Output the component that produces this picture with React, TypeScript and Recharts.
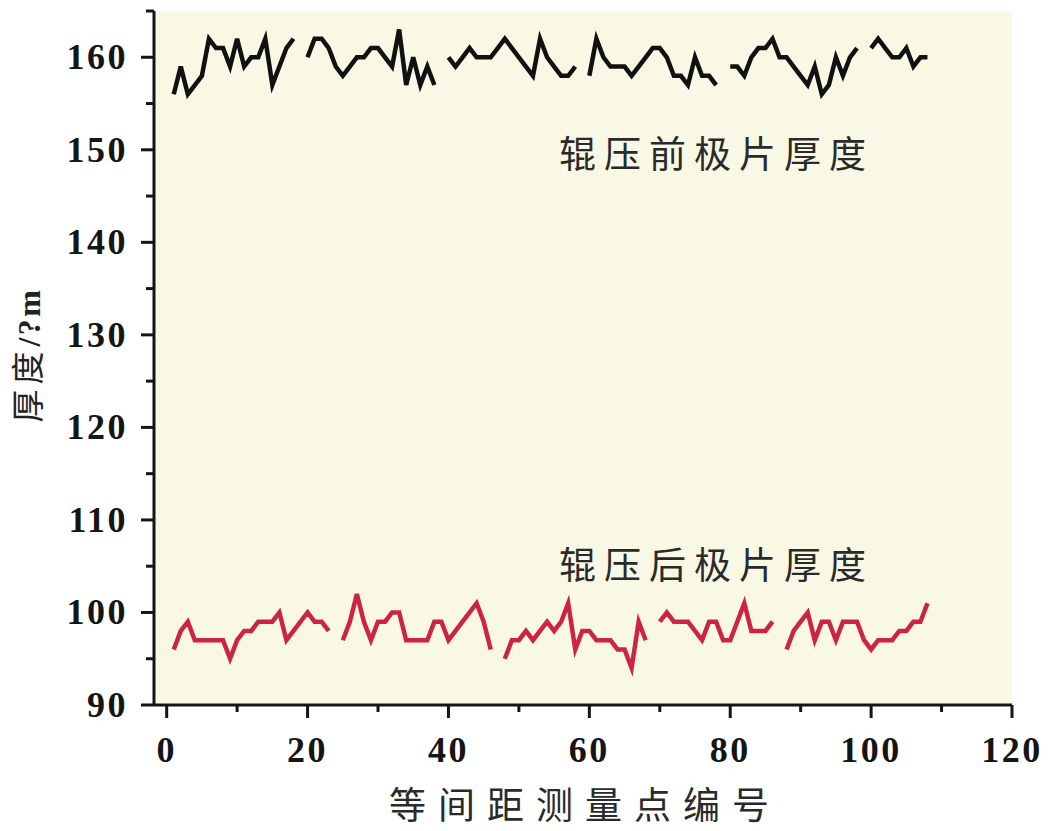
import { CartesianGrid, Line, LineChart, XAxis, YAxis } from "recharts";

// 辊压前 (before rolling) thickness, points 1..108, null = break between batches
const beforeRolling: (number | null)[] = [
  156, 159, 156, 157, 158, 162, 161, 161, 159, 162, 159, 160, 160, 162, 157, 159, 161, 162,
  null,
  160, 162, 162, 161, 159, 158, 159, 160, 160, 161, 161, 160, 159, 163, 157, 160, 157, 159, 157,
  null,
  160, 159, 160, 161, 160, 160, 160, 161, 162, 161, 160, 159, 158, 162, 160, 159, 158, 158, 159,
  null,
  158, 162, 160, 159, 159, 159, 158, 159, 160, 161, 161, 160, 158, 158, 157, 160, 158, 158, 157,
  null,
  159, 159, 158, 160, 161, 161, 162, 160, 160, 159, 158, 157, 159, 156, 157, 160, 158, 160, 161,
  null,
  161, 162, 161, 160, 160, 161, 159, 160, 160,
];

// 辊压后 (after rolling) thickness
const afterRolling: (number | null)[] = [
  96, 98, 99, 97, 97, 97, 97, 97, 95, 97, 98, 98, 99, 99, 99, 100, 97, 98, 99, 100, 99, 99, 98,
  null,
  97, 99, 102, 99, 97, 99, 99, 100, 100, 97, 97, 97, 97, 99, 99, 97, 98, 99, 100, 101, 99, 96,
  null,
  95, 97, 97, 98, 97, 98, 99, 98, 99, 101, 96, 98, 98, 97, 97, 97, 96, 96, 94, 99, 97,
  null,
  99, 100, 99, 99, 99, 98, 97, 99, 99, 97, 97, 99, 101, 98, 98, 98, 99,
  null,
  96, 98, 99, 100, 97, 99, 99, 97, 99, 99, 99, 97, 96, 97, 97, 97, 98, 98, 99, 99, 101,
];

const xTicks = [0, 10, 20, 30, 40, 50, 60, 70, 80, 90, 100, 110, 120];
const yTicks = [90, 95, 100, 105, 110, 115, 120, 125, 130, 135, 140, 145, 150, 155, 160, 165];

const data = beforeRolling.map((v, i) => ({
  n: i + 1,
  before: v,
  after: afterRolling[i],
}));

const INK = "#151515";
const tickFont = {
  fontFamily: "'Liberation Serif', 'Times New Roman', serif",
  fontWeight: 700,
  fontSize: 36,
  letterSpacing: 2.5,
};
const cjkFont = "'Noto Sans CJK SC', 'Noto Sans', sans-serif";

function YTick(props: any) {
  const { x, y, payload } = props;
  const major = payload.value % 10 === 0;
  return (
    <g>
      <line x1={x} y1={y} x2={x - (major ? 13 : 8)} y2={y} stroke={INK} strokeWidth={3} />
      {major && (
        <text x={x - 26} y={y} textAnchor="end" dominantBaseline="central" fill={INK} style={tickFont}>
          {payload.value}
        </text>
      )}
    </g>
  );
}

function XTick(props: any) {
  const { x, y, payload } = props;
  const major = payload.value % 20 === 0;
  return (
    <g>
      <line x1={x} y1={y} x2={x} y2={y + (major ? 13 : 7)} stroke={INK} strokeWidth={3} />
      {major && (
        <text x={x} y={y + 45} textAnchor="middle" dominantBaseline="central" fill={INK} style={tickFont}>
          {payload.value}
        </text>
      )}
    </g>
  );
}

const noteStyle: React.CSSProperties = {
  position: "absolute",
  fontFamily: cjkFont,
  fontSize: 37,
  letterSpacing: 8,
  color: "#2a2a2a",
  lineHeight: "40px",
  whiteSpace: "nowrap",
};

export default function App() {
  return (
    <div style={{ position: "absolute", left: 0, top: 0, width: 1050, height: 831, background: "#fff" }}>
      <LineChart
        width={1050}
        height={831}
        data={data}
        margin={{ top: 11, right: 38, bottom: 0, left: 0 }}
      >
        <CartesianGrid fill="#f8f8e5" stroke="none" horizontal={false} vertical={false} />
        <XAxis
          dataKey="n"
          type="number"
          domain={[-1.8, 120]}
          ticks={xTicks}
          interval={0}
          height={126}
          tickSize={0}
          tickMargin={0}
          tickLine={false}
          axisLine={{ stroke: INK, strokeWidth: 3 }}
          tick={<XTick />}
        />
        <YAxis
          type="number"
          domain={[90, 165]}
          ticks={yTicks}
          interval={0}
          width={154}
          tickSize={0}
          tickMargin={0}
          tickLine={false}
          axisLine={{ stroke: INK, strokeWidth: 3 }}
          tick={<YTick />}
        />
        <Line
          dataKey="before"
          stroke="#111"
          strokeWidth={4.5}
          dot={false}
          type="linear"
          connectNulls={false}
          isAnimationActive={false}
        />
        <Line
          dataKey="after"
          stroke="#cc2442"
          strokeWidth={4.5}
          dot={false}
          type="linear"
          connectNulls={false}
          isAnimationActive={false}
        />
      </LineChart>

      <div style={{ ...noteStyle, left: 559, top: 132 }}>辊压前极片厚度</div>
      <div style={{ ...noteStyle, left: 559, top: 543 }}>辊压后极片厚度</div>

      <div
        style={{
          position: "absolute",
          left: 27,
          top: 355,
          transform: "translate(-50%, -50%) rotate(-90deg)",
          whiteSpace: "nowrap",
          fontSize: 33,
          letterSpacing: 5,
          color: "#222",
          lineHeight: "36px",
        }}
      >
        <span style={{ fontFamily: cjkFont }}>厚度</span>
        <span style={{ ...tickFont, fontSize: 32 }}>/?m</span>
      </div>

      <div
        style={{
          position: "absolute",
          left: 585,
          top: 803,
          transform: "translate(-50%, -50%)",
          whiteSpace: "nowrap",
          fontFamily: cjkFont,
          fontSize: 37,
          letterSpacing: 12,
          color: "#2a2a2a",
          lineHeight: "40px",
        }}
      >
        等间距测量点编号
      </div>
    </div>
  );
}
